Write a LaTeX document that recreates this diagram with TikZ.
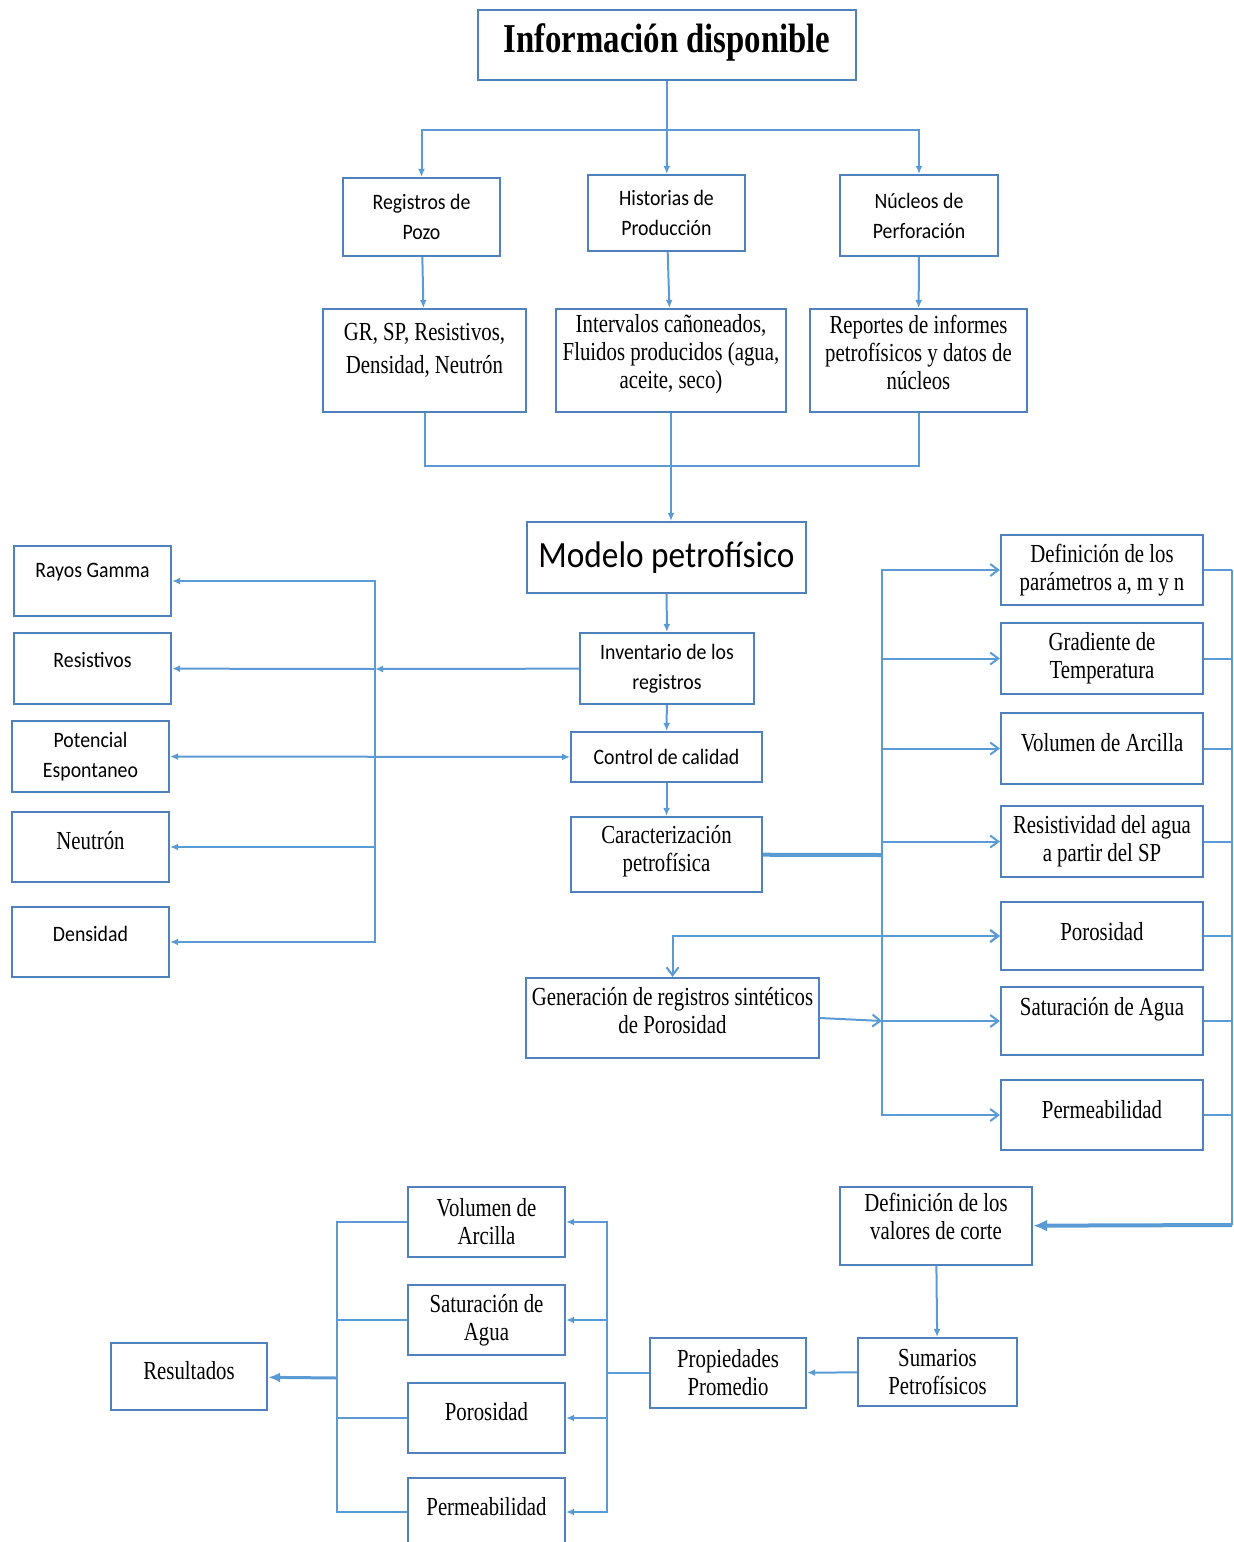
\documentclass[tikz,border=0pt]{standalone}
\usepackage{fontspec}
\setmainfont{Liberation Serif}
\newfontfamily\serifc[FakeStretch=0.8]{Liberation Serif}
\newfontfamily\sansc[FakeStretch=0.9]{Carlito}
\usetikzlibrary{arrows.meta}
\definecolor{linea}{HTML}{5B9BD5}
\definecolor{borde}{HTML}{4F81BD}

\begin{document}
\begin{tikzpicture}[x=0.5pt, y=-0.5pt]%
        \tikzstyle{box}=[draw=borde, line width=1.1pt, align=center, inner sep=2pt];%
        \tikzstyle{tr}=[font=\serifc\fontsize{13}{14}\selectfont];%
        \tikzstyle{ca}=[font=\sansc\fontsize{11}{15}\selectfont];%
        \tikzstyle{con}=[draw=linea, line width=1pt];%
        \tikzstyle{arr}=[con, -{Latex[length=4pt,width=3.5pt]}];%
        \tikzstyle{oarr}=[con, -{Straight Barb[length=4pt,width=6pt]}];%
        \useasboundingbox (0,0) rectangle (1233,1542);

        % top block
        \node[box, font=\serifc\bfseries\fontsize{20.5}{22}\selectfont, minimum width=189pt, minimum height=35pt, text depth=7pt] (info) at (667,45) {Información disponible};

        \node[box, ca, minimum width=78.5pt, minimum height=39pt] (reg) at (421.5,217) {Registros de\\Pozo};
        \node[box, ca, minimum width=78.5pt, minimum height=38pt] (his) at (666.5,213) {Historias de\\Producción};
        \node[box, ca, minimum width=79pt, minimum height=40.5pt] (nuc) at (919,215.5) {Núcleos de\\Perforación};

        \node[box, tr, minimum width=101.5pt, minimum height=51.5pt, text depth=12pt] (gr) at (424.5,360.5) {GR, SP, Resistivos,\\[2.5pt]Densidad, Neutrón};
        \node[box, tr, minimum width=115pt, minimum height=51.5pt, text depth=9pt] (int) at (671,360.5) {Intervalos cañoneados,\\Fluidos producidos (agua,\\aceite, seco)};
        \node[box, tr, minimum width=108.5pt, minimum height=51.5pt, text depth=8.5pt] (rep) at (918.5,360.5) {Reportes de informes\\petrofísicos y datos de\\núcleos};

        \coordinate (j1) at (667,130);
        \draw[con] (info) -- (j1);
        \draw[arr] (j1) -| (reg);
        \draw[arr] (j1) -- (his);
        \draw[arr] (j1) -| (nuc);
        \draw[arr] (reg) -- (gr);
        \draw[arr] (his) -- (int);
        \draw[arr] (nuc) -- (rep);

        \coordinate (j2) at (671,466);
        \draw[con] (gr) |- (j2);
        \draw[con] (rep) |- (j2);

        % middle column
        \node[box, font=\sansc\fontsize{18.5}{20}\selectfont, minimum width=139.5pt, minimum height=35.5pt] (mod) at (666.5,557.5) {Modelo petrofísico};
        \node[box, ca, minimum width=87pt, minimum height=35.5pt] (inv) at (667,668.5) {Inventario de los\\registros};
        \node[box, ca, minimum width=95.5pt, minimum height=25pt] (ctl) at (666.5,757) {Control de calidad};
        \node[box, tr, minimum width=95.5pt, minimum height=37.5pt, text depth=6pt] (car) at (666.5,854.5) {Caracterización\\petrofísica};

        \draw[arr] (int) -- (int |- mod.north);
        \draw[arr] (mod) -- (inv);
        \draw[arr] (inv) -- (ctl);
        \draw[arr] (ctl) -- (car);

        % registros
        \node[box, ca, minimum width=78.5pt, minimum height=35pt, text depth=11pt] (ray) at (92.5,581) {Rayos Gamma};
        \node[box, ca, minimum width=78.5pt, minimum height=35.5pt, text depth=9pt] (res) at (92.5,668.5) {Resistivos};
        \node[box, ca, minimum width=78.5pt, minimum height=35.5pt] (pot) at (90.5,756.5) {Potencial\\Espontaneo};
        \node[box, tr, minimum width=78.5pt, minimum height=35pt, text depth=7pt] (neu) at (90.5,847) {Neutrón};
        \node[box, ca, minimum width=78.5pt, minimum height=35pt, text depth=8pt] (den) at (90.5,942) {Densidad};

        \coordinate (lb) at (375,669);
        \draw[arr] (inv) -- (lb);
        \draw[arr] (lb) |- (ray);
        \draw[arr] (lb) -- (res);
        \draw[arr] (lb) |- (neu);
        \draw[arr] (lb) |- (den);
        \draw[con, {Latex[length=4pt,width=3.5pt]}-{Latex[length=4pt,width=3.5pt]}] (pot) -- (ctl);

        % caracterizacion
        \node[box, tr, minimum width=101pt, minimum height=35pt] (pam) at (1102,570) {Definición de los\\parámetros a, m y n};
        \node[box, tr, minimum width=101pt, minimum height=35.5pt] (gra) at (1102,658.5) {Gradiente de\\Temperatura};
        \node[box, tr, minimum width=101pt, minimum height=35.5pt, text depth=6pt] (vol) at (1102,748.5) {Volumen de Arcilla};
        \node[box, tr, minimum width=101pt, minimum height=35.5pt] (rw) at (1102,841.5) {Resistividad del agua\\a partir del SP};
        \node[box, tr, minimum width=101pt, minimum height=34pt, text depth=5pt] (por) at (1102,936) {Porosidad};
        \node[box, tr, minimum width=101pt, minimum height=34pt, text depth=15pt] (sw) at (1102,1021) {Saturación de Agua};
        \node[box, tr, minimum width=101pt, minimum height=35pt, text depth=6pt] (per) at (1102,1115) {Permeabilidad};
        \node[box, tr, minimum width=146.5pt, minimum height=40pt, text depth=8pt] (gen) at (672.5,1018) {Generación de registros sintéticos\\de Porosidad};

        \coordinate (rb) at (882,855);
        \draw[con, line width=2pt] (car) -- (rb);
        \draw[oarr] (rb) |- (pam);
        \draw[oarr] (rb) |- (gra);
        \draw[oarr] (rb) |- (vol);
        \draw[oarr] (rb) |- (rw);
        \draw[oarr] (rb) |- (por);
        \draw[oarr] (rb) |- (sw);
        \draw[oarr] (rb) |- (per);
        \draw[oarr] (gen.east) -- (rb |- sw);
        \draw[con, {Straight Barb[length=4pt,width=6pt]}-{Straight Barb[length=4pt,width=6pt]}] (gen) |- (por);

        % retorno
        \coordinate (eb) at (1232,1225);
        \draw[con] (pam) -- (pam -| eb);
        \draw[con] (gra) -- (gra -| eb);
        \draw[con] (vol) -- (vol -| eb);
        \draw[con] (rw) -- (rw -| eb);
        \draw[con] (por) -- (por -| eb);
        \draw[con] (sw) -- (sw -| eb);
        \draw[con] (per) -- (per -| eb);
        \draw[con] (eb |- pam) -- (eb);

        % bottom block
        \node[box, tr, minimum width=96pt, minimum height=39pt, text depth=10pt] (cor) at (936,1226) {Definición de los\\valores de corte};
        \node[box, tr, minimum width=79.5pt, minimum height=34pt] (sum) at (937.5,1372) {Sumarios\\Petrofísicos};
        \node[box, tr, minimum width=78pt, minimum height=35pt] (pro) at (728,1373) {Propiedades\\Promedio};
        \node[box, tr, minimum width=78.5pt, minimum height=35pt] (bva) at (486.5,1222) {Volumen de\\Arcilla};
        \node[box, tr, minimum width=78.5pt, minimum height=35pt] (bsw) at (486.5,1320) {Saturación de\\Agua};
        \node[box, tr, minimum width=78.5pt, minimum height=35pt, text depth=7pt] (bpo) at (486.5,1418) {Porosidad};
        \node[box, tr, minimum width=78.5pt, minimum height=34pt, text depth=6pt] (bpe) at (486.5,1512) {Permeabilidad};
        \node[box, tr, minimum width=78pt, minimum height=33.5pt, text depth=6pt] (rst) at (189,1376.5) {Resultados};

        \draw[con, line width=2pt, -{Latex[length=7pt,width=6pt]}] (eb) -- (cor);
        \draw[arr] (cor) -- (sum);
        \draw[arr] (sum) -- (pro);

        \coordinate (bb) at (607,1373);
        \draw[con] (pro) -- (bb);
        \draw[arr] (bb) |- (bva);
        \draw[arr] (bb) |- (bsw);
        \draw[arr] (bb) |- (bpo);
        \draw[arr] (bb) |- (bpe);

        \coordinate (lb2) at (337,1378);
        \draw[con] (bva) -| (lb2);
        \draw[con] (bsw) -| (lb2);
        \draw[con] (bpo) -| (lb2);
        \draw[con] (bpe) -| (lb2);
        \draw[con, line width=1.5pt, -{Latex[length=6pt,width=5pt]}] (lb2) -- (rst);
\end{tikzpicture}
\end{document}
